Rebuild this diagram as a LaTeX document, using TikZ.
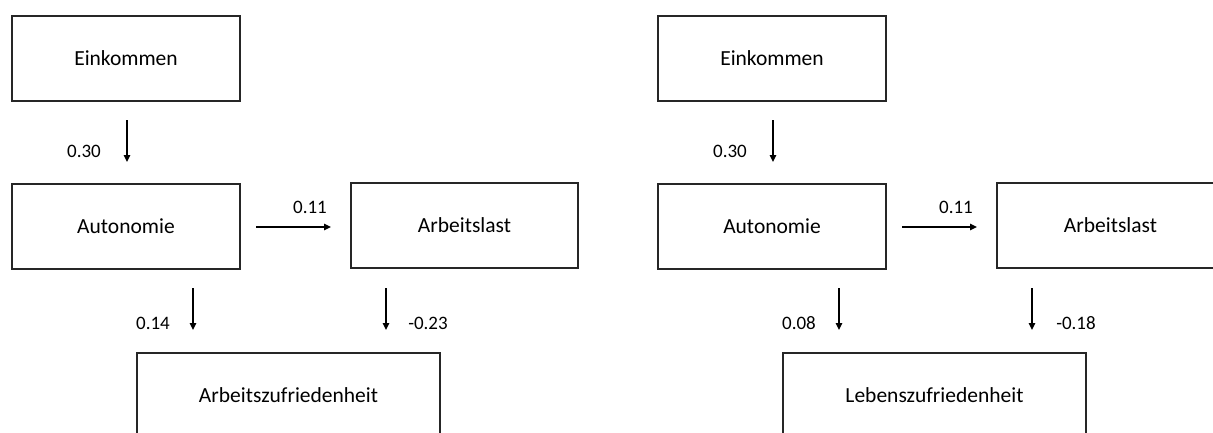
\documentclass[tikz,border=0pt]{standalone}
\usepackage{fontspec}
\setmainfont{Carlito}
\usetikzlibrary{arrows.meta}
\tikzset{
  varbox/.style={draw=black!85, line width=1.2pt, rectangle, inner sep=0pt,
    minimum width=228pt, minimum height=85pt, font=\fontsize{21.5}{26}\selectfont},
  coef/.style={inner sep=0pt, font=\fontsize{19}{23}\selectfont},
  arr/.style={line width=1.3pt, -{Triangle[length=7pt,width=6.5pt]}}
}
\begin{document}
\begin{tikzpicture}[x=1pt,y=-1pt]
\path[use as bounding box] (0,0) rectangle (1213,432);
\clip (0,0) rectangle (1213,432);
% ---------- left model ----------
\node[varbox] (E1) at (126,58.5) {Einkommen};
\node[varbox] (A1) at (126,226.5) {Autonomie};
\node[varbox, minimum width=227pt] (W1) at (464.5,225.5) {Arbeitslast};
\node[varbox, minimum width=303pt] (Z1) at (288.5,395.5) {Arbeitszufriedenheit};
\coordinate (a1s) at (127,120);  \coordinate (a1e) at (127,162);
\coordinate (b1s) at (256,227);  \coordinate (b1e) at (331,227);
\coordinate (c1s) at (193,288);  \coordinate (c1e) at (193,330);
\coordinate (d1s) at (386,288);  \coordinate (d1e) at (386,330);
\draw[arr] (a1s) -- (a1e);
\draw[arr] (b1s) -- (b1e);
\draw[arr] (c1s) -- (c1e);
\draw[arr] (d1s) -- (d1e);
\node[coef] (l1a) at (84,151) {0.30};
\node[coef] (l1b) at (310,207) {0.11};
\node[coef] (l1c) at (153,323) {0.14};
\node[coef] (l1d) at (428,323) {-0.23};
% ---------- right model ----------
\node[varbox] (E2) at (772,58.5) {Einkommen};
\node[varbox] (A2) at (772,226.5) {Autonomie};
\node[varbox, minimum width=227pt] (W2) at (1110.5,225.5) {Arbeitslast};
\node[varbox, minimum width=303pt] (Z2) at (934.5,395.5) {Lebenszufriedenheit};
\coordinate (a2s) at (773,120);  \coordinate (a2e) at (773,162);
\coordinate (b2s) at (902,227);  \coordinate (b2e) at (977,227);
\coordinate (c2s) at (839,288);  \coordinate (c2e) at (839,330);
\coordinate (d2s) at (1032,288); \coordinate (d2e) at (1032,330);
\draw[arr] (a2s) -- (a2e);
\draw[arr] (b2s) -- (b2e);
\draw[arr] (c2s) -- (c2e);
\draw[arr] (d2s) -- (d2e);
\node[coef] (l2a) at (730,151) {0.30};
\node[coef] (l2b) at (956,207) {0.11};
\node[coef] (l2c) at (799,323) {0.08};
\node[coef] (l2d) at (1076,323) {-0.18};
\end{tikzpicture}
\end{document}
